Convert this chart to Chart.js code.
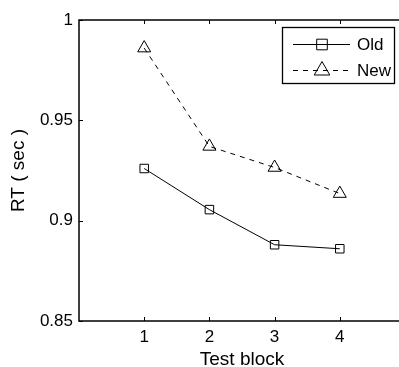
<!DOCTYPE html>
<html>
<head>
<meta charset="utf-8">
<script src="https://cdn.jsdelivr.net/npm/chart.js@4/dist/chart.umd.min.js"></script>
<style>
  html, body { margin: 0; padding: 0; background: #fff; overflow: hidden; }
  #wrap { width: 420px; height: 367px; }
</style>
</head>
<body>
<div id="wrap"><canvas id="grafico" width="420" height="367"></canvas></div>
<script>
// Datos
const bloques = [1, 2, 3, 4];
const rtOld = [0.926, 0.9055, 0.888, 0.886];
const rtNew = [0.986, 0.937, 0.9265, 0.9135];
const ticksY = [0.85, 0.9, 0.95, 1];
const etiquetas = ['Old', 'New'];

const fuente = 'Liberation Sans, Arial, Helvetica, sans-serif';

// Ticks hacia adentro y caja de ejes estilo MATLAB
const cajaEjes = {
  id: 'cajaEjes',
  afterDatasetsDraw(chart) {
    const ctx = chart.ctx;
    const a = chart.chartArea;
    const sx = chart.scales.x;
    const sy = chart.scales.y;
    ctx.save();
    ctx.strokeStyle = '#000';
    ctx.lineWidth = 1;
    ctx.beginPath();
    bloques.forEach(b => {
      const px = Math.round(sx.getPixelForValue(b)) + 0.5;
      ctx.moveTo(px, a.bottom); ctx.lineTo(px, a.bottom - 4);
      ctx.moveTo(px, a.top); ctx.lineTo(px, a.top + 4);
    });
    ticksY.forEach(v => {
      const py = Math.round(sy.getPixelForValue(v)) + 0.5;
      ctx.moveTo(a.left, py); ctx.lineTo(a.left + 4, py);
    });
    ctx.stroke();
    ctx.lineWidth = 1.5;
    ctx.strokeRect(a.left, a.top, a.right - a.left, a.bottom - a.top);
    ctx.restore();
  }
};

// Leyenda con linea y marcador
const leyenda = {
  id: 'leyenda',
  afterDraw(chart) {
    const ctx = chart.ctx;
    const x0 = 282.5, y0 = 27.5, w = 112, h = 56;
    ctx.save();
    ctx.fillStyle = '#fff';
    ctx.fillRect(x0, y0, w, h);
    ctx.strokeStyle = '#000';
    ctx.lineWidth = 1.3;
    ctx.strokeRect(x0, y0, w, h);
    chart.data.datasets.forEach((ds, i) => {
      const y = y0 + 17 + i * 26;
      ctx.strokeStyle = '#000';
      ctx.lineWidth = 1;
      ctx.setLineDash(ds.borderDash || []);
      ctx.beginPath();
      ctx.moveTo(293, y); ctx.lineTo(350, y);
      ctx.stroke();
      ctx.setLineDash([]);
      ctx.fillStyle = 'rgba(0,0,0,0)';
      Chart.helpers.drawPoint(ctx, {
        pointStyle: ds.pointStyle, radius: ds.pointRadius + 1.5, borderWidth: 1
      }, 322, y);
      ctx.fillStyle = '#000';
      ctx.font = '17px ' + fuente;
      ctx.textBaseline = 'middle';
      ctx.fillText(etiquetas[i], 357, y + 1);
    });
    ctx.restore();
  }
};

const config = {
  type: 'line',
  data: {
    datasets: [{
      label: etiquetas[0],
      data: bloques.map((b, i) => ({x: b, y: rtOld[i]})),
      borderColor: '#000',
      borderWidth: 1,
      pointStyle: 'rect',
      pointRadius: 6,
      pointBorderColor: '#000',
      pointBackgroundColor: 'rgba(0,0,0,0)',
      pointBorderWidth: 1
    }, {
      label: etiquetas[1],
      data: bloques.map((b, i) => ({x: b, y: rtNew[i]})),
      borderColor: '#000',
      borderWidth: 1,
      borderDash: [5, 5],
      pointStyle: 'triangle',
      pointRadius: 7.5,
      pointBorderColor: '#000',
      pointBackgroundColor: 'rgba(0,0,0,0)',
      pointBorderWidth: 1
    }]
  },
  options: {
    responsive: false,
    animation: false,
    layout: { padding: { left: 0, top: 20, right: 15, bottom: 0 } },
    plugins: { legend: { display: false }, tooltip: { enabled: false } },
    scales: {
      x: {
        type: 'linear', min: 0, max: 5,
        afterBuildTicks: s => { s.ticks = bloques.map(v => ({value: v})); },
        afterFit: s => { s.height = 46; },
        grid: { display: false, drawTicks: false },
        border: { display: false },
        ticks: { color: '#000', padding: 6, font: { family: fuente, size: 17 } },
        title: {
          display: true, text: 'Test block', color: '#000',
          font: { family: fuente, size: 19, lineHeight: 1 },
          padding: { top: 0, bottom: -2 }
        }
      },
      y: {
        min: 0.85, max: 1,
        afterBuildTicks: s => { s.ticks = ticksY.map(v => ({value: v})); },
        afterFit: s => { s.width = 79; },
        grid: { display: false, drawTicks: false },
        border: { display: false },
        ticks: {
          color: '#000', padding: 6, font: { family: fuente, size: 17 },
          callback: v => String(v)
        },
        title: {
          display: true, text: 'RT ( sec )', color: '#000',
          font: { family: fuente, size: 19, lineHeight: 1 },
          padding: { top: 9, bottom: 0 }
        }
      }
    }
  },
  plugins: [cajaEjes, leyenda]
};

const myChart = new Chart(document.getElementById('grafico'), config);
</script>
</body>
</html>
